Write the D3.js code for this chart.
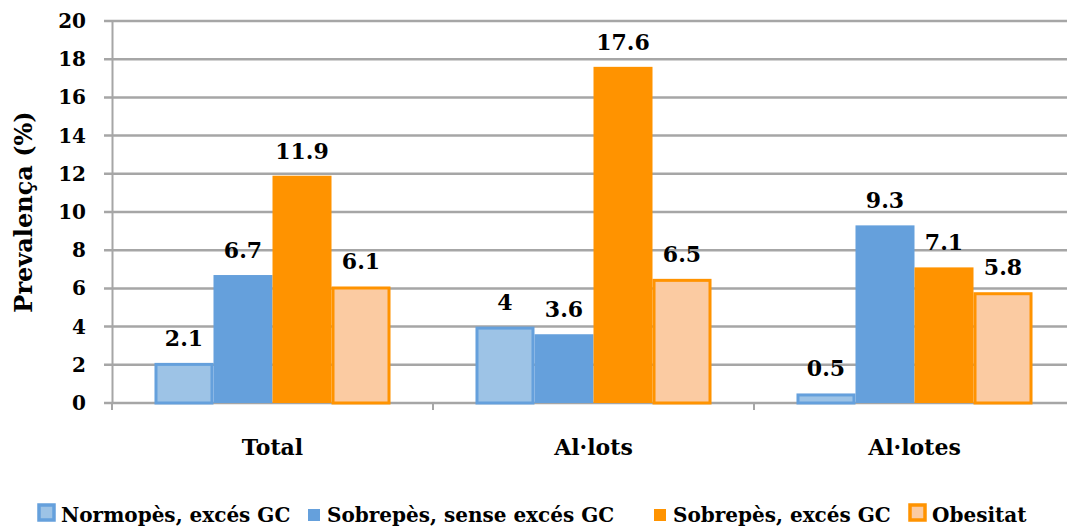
<!DOCTYPE html>
<html>
<head>
<meta charset="utf-8">
<script src="https://cdn.jsdelivr.net/npm/d3@7"></script>
<style>
  body { margin: 0; background: #fff; }
  svg text { font-family: "DejaVu Serif", serif; font-weight: bold; }
</style>
</head>
<body>
<svg id="drawing_region"></svg>
<script>
const categories = ['Total', 'Al·lots', 'Al·lotes'];
const series = ['Normopès, excés GC', 'Sobrepès, sense excés GC', 'Sobrepès, excés GC', 'Obesitat'];
const normopes = [2.1, 4, 0.5];
const sobrepesSense = [6.7, 3.6, 9.3];
const sobrepesExces = [11.9, 17.6, 7.1];
const obesitat = [6.1, 6.5, 5.8];
const yticks = [0, 2, 4, 6, 8, 10, 12, 14, 16, 18, 20];

const fills = ['#9dc3e6', '#65a0dc', '#ff9300', '#fbcba2'];
const strokes = ['#65a0dc', '#65a0dc', '#ff9300', '#ff9300'];

const values = [normopes, sobrepesSense, sobrepesExces, obesitat];
const data = [];
categories.forEach((c, i) => {
    series.forEach((s, j) => data.push({ cat: c, ser: s, idx: j, value: values[j][i] }));
});

const width = 1067, height = 529;
const margin = { top: 21, left: 112, bottom: 126 };
const plotRight = 1075;

const svg = d3.select('#drawing_region')
    .attr('width', width)
    .attr('height', height);

const xscale = d3.scaleBand()
    .domain(categories)
    .range([margin.left, plotRight])
    .paddingInner(0)
    .paddingOuter(0);

const xinner = d3.scaleBand()
    .domain(series)
    .range([0, xscale.bandwidth()])
    .paddingOuter(0.72)
    .paddingInner(0);

const yscale = d3.scaleLinear()
    .domain([0, 20])
    .range([height - margin.bottom, margin.top]);

// grid lines
svg.append('g')
    .selectAll('line')
    .data(yticks)
    .join('line')
    .attr('x1', margin.left - 8)
    .attr('x2', plotRight)
    .attr('y1', d => yscale(d))
    .attr('y2', d => yscale(d))
    .attr('stroke', '#a6a6a6')
    .attr('stroke-width', 2.5);

// y axis
const yaxis = d3.axisLeft(yscale).tickValues(yticks).tickSize(0).tickPadding(26);
const yg = svg.append('g')
    .attr('transform', `translate(${margin.left}, 0)`)
    .call(yaxis);
yg.select('.domain').attr('stroke', '#a6a6a6').attr('stroke-width', 2);
yg.selectAll('text')
    .attr('font-size', 20)
    .attr('font-family', '"DejaVu Serif", serif')
    .attr('font-weight', 'bold')
    .attr('fill', '#000');

// x axis
const xaxis = d3.axisBottom(xscale).tickSize(0).tickPadding(36);
const xg = svg.append('g')
    .attr('transform', `translate(0, ${yscale(0)})`)
    .call(xaxis);
xg.select('.domain').remove();
xg.selectAll('text')
    .attr('font-size', 22)
    .attr('font-family', '"DejaVu Serif", serif')
    .attr('font-weight', 'bold')
    .attr('fill', '#000');
xg.selectAll('.boundary')
    .data(categories)
    .join('line')
    .attr('x1', d => xscale(d))
    .attr('x2', d => xscale(d))
    .attr('y1', 0)
    .attr('y2', 7)
    .attr('stroke', '#a6a6a6')
    .attr('stroke-width', 2);

// bars
const outlined = d => d.idx === 0 || d.idx === 3;
svg.append('g')
    .selectAll('rect')
    .data(data)
    .join('rect')
    .attr('x', d => xscale(d.cat) + xinner(d.ser) + (outlined(d) ? 1.5 : 0))
    .attr('y', d => yscale(d.value) + (outlined(d) ? 1.5 : 0))
    .attr('width', d => xinner.bandwidth() - (outlined(d) ? 3 : 0))
    .attr('height', d => yscale(0) - yscale(d.value) - (outlined(d) ? 1.5 : 0))
    .attr('fill', d => fills[d.idx])
    .attr('stroke', d => outlined(d) ? strokes[d.idx] : 'none')
    .attr('stroke-width', 3);

// value labels
svg.append('g')
    .selectAll('text')
    .data(data)
    .join('text')
    .attr('x', d => xscale(d.cat) + xinner(d.ser) + xinner.bandwidth() / 2)
    .attr('y', d => yscale(d.value) - 17)
    .attr('text-anchor', 'middle')
    .attr('font-size', 22)
    .text(d => d.value);

// y title
svg.append('text')
    .attr('transform', `translate(32, ${(yscale(0) + yscale(20)) / 2}) rotate(-90)`)
    .attr('text-anchor', 'middle')
    .attr('font-size', 24)
    .text('Prevalença (%)');

// legend
const legend = svg.append('g').attr('transform', 'translate(0, 522)');
const legendX = [40, 306, 652, 911];
series.forEach((s, j) => {
    const g = legend.append('g').attr('transform', `translate(${legendX[j]}, 0)`);
    if (j === 0 || j === 3) {
        g.append('rect').attr('x', -1).attr('y', -17).attr('width', 15).attr('height', 15)
            .attr('fill', fills[j]).attr('stroke', strokes[j]).attr('stroke-width', 3.5);
    } else {
        g.append('rect').attr('x', 2).attr('y', -13).attr('width', 12).attr('height', 12)
            .attr('fill', fills[j]);
    }
    g.append('text')
        .attr('x', 21)
        .attr('y', 0)
        .attr('font-size', 20)
        .text(s);
});
</script>
</body>
</html>
